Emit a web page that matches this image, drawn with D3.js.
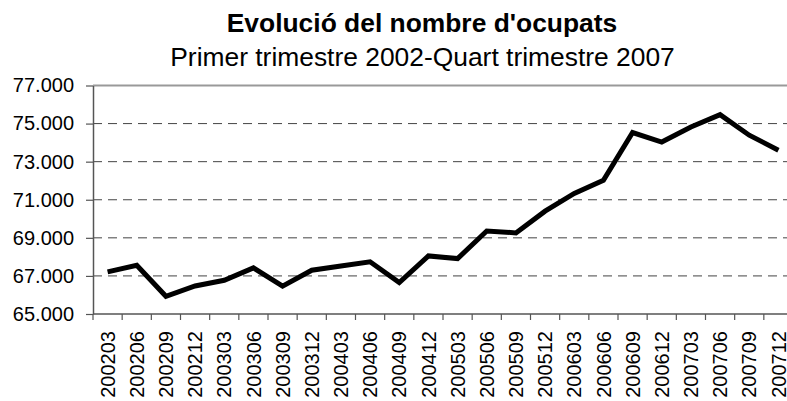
<!DOCTYPE html>
<html>
<head>
<meta charset="utf-8">
<script src="https://cdn.jsdelivr.net/npm/d3@7"></script>
<style>
body { margin: 0; background: #fff; }
text { font-family: "Liberation Sans", Arial, sans-serif; fill: #000; }
</style>
</head>
<body>
<script>
var width = 787,
    height = 401;

// trimestres
var quarters = ["200203","200206","200209","200212","200303","200306","200309","200312",
                "200403","200406","200409","200412","200503","200506","200509","200512",
                "200603","200606","200609","200612","200703","200706","200709","200712"];
// nombre d'ocupats
var ocupats = [67210, 67560, 65930, 66470, 66770, 67420, 66460, 67300,
               67520, 67740, 66650, 68050, 67910, 69360, 69260, 70400,
               71330, 72020, 74530, 74030, 74820, 75470, 74390, 73600];
var yTicks = [65000, 67000, 69000, 71000, 73000, 75000, 77000];

var title = "Evolució del nombre d'ocupats",
    subtitle = "Primer trimestre 2002-Quart trimestre 2007";

// plot area (right side runs past the window, as in the original)
var plotLeft = 93, plotRight = 793, plotTop = 85.5, plotBottom = 314;

var svg = d3.select("body").append("svg")
    .attr("width", width)
    .attr("height", height);

var x = d3.scaleBand().domain(quarters).range([plotLeft, plotRight]);
var y = d3.scaleLinear().domain([65000, 77000]).range([plotBottom, plotTop]);

var fmt = function(v){ return d3.format(",")(v).replace(/,/g, "."); };

// titles
svg.append("text").attr("x", 422).attr("y", 31.5).attr("text-anchor", "middle")
    .style("font-size", "26.4px").style("font-weight", "bold").text(title);
svg.append("text").attr("x", 422.5).attr("y", 65.5).attr("text-anchor", "middle")
    .style("font-size", "26.4px").text(subtitle);

// gridlines (dashed)
svg.append("g").selectAll("line")
    .data(yTicks.filter(function(d){ return d > 65000 && d < 77000; }))
    .enter().append("line")
    .attr("x1", plotLeft).attr("x2", plotRight)
    .attr("y1", function(d){ return y(d); }).attr("y2", function(d){ return y(d); })
    .attr("stroke", "#444").attr("stroke-width", 1).attr("stroke-dasharray", "9,6");

// plot border on top
svg.append("line").attr("x1", plotLeft).attr("x2", plotRight).attr("y1", plotTop).attr("y2", plotTop)
    .attr("stroke", "#999").attr("stroke-width", 2);

// y axis
var yAxis = svg.append("g").attr("transform", "translate(" + plotLeft + ",0)")
    .call(d3.axisLeft(y).tickValues(yTicks).tickSize(7).tickPadding(12).tickFormat(fmt).tickSizeOuter(0));
yAxis.select(".domain").attr("stroke", "#555").attr("stroke-width", 1.5);
yAxis.selectAll(".tick line").attr("stroke", "#555").attr("stroke-width", 1.2);
yAxis.selectAll("text").style("font-size", "20px").style("font-family", "Liberation Sans, Arial, sans-serif").attr("fill", "#000");

// x axis: ticks between categories
var xg = svg.append("g").attr("transform", "translate(0," + plotBottom + ")");
xg.append("line").attr("x1", plotLeft).attr("x2", plotRight).attr("stroke", "#555").attr("stroke-width", 1.5);
xg.selectAll(".xt").data(quarters.concat(["end"])).enter().append("line")
    .attr("class", "xt")
    .attr("x1", function(d, i){ return plotLeft + i * x.step(); })
    .attr("x2", function(d, i){ return plotLeft + i * x.step(); })
    .attr("y1", 0).attr("y2", 6)
    .attr("stroke", "#555").attr("stroke-width", 1.2);
xg.selectAll(".xl").data(quarters).enter().append("text")
    .attr("class", "xl")
    .attr("transform", function(d){ return "translate(" + (x(d) + x.bandwidth() / 2) + ",17) rotate(-90)"; })
    .attr("dy", "0.36em")
    .attr("text-anchor", "end")
    .style("font-size", "20px")
    .text(function(d){ return d; });

// line
var line = d3.line()
    .x(function(d, i){ return x(quarters[i]) + x.bandwidth() / 2; })
    .y(function(d){ return y(d); });

svg.append("path").datum(ocupats)
    .attr("d", line)
    .attr("fill", "none")
    .attr("stroke", "#000")
    .attr("stroke-width", 5)
    .attr("stroke-linejoin", "miter");
</script>
</body>
</html>
